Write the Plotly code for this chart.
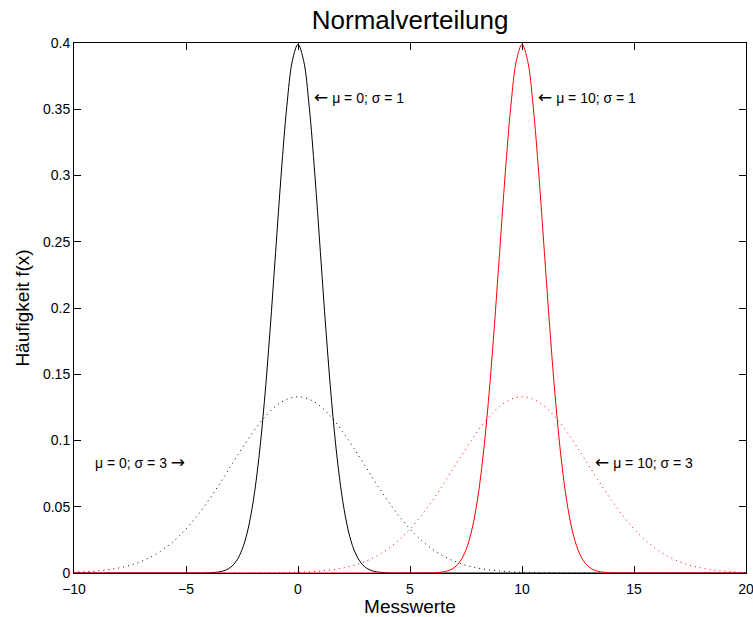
import plotly.graph_objects as go

# ---- data ----
means = [0, 10]
# sigma = 1 density read at offsets from the mean
off_s1 = [-4.5, -4.25, -4.0, -3.75, -3.5, -3.25, -3.0, -2.75, -2.5, -2.25, -2.0, -1.75,
          -1.5, -1.25, -1.0, -0.75, -0.5, -0.25, 0.0, 0.25, 0.5, 0.75, 1.0, 1.25, 1.5,
          1.75, 2.0, 2.25, 2.5, 2.75, 3.0, 3.25, 3.5, 3.75, 4.0, 4.25, 4.5]
dens_s1 = [0.0, 0.0, 0.0001, 0.0004, 0.0009, 0.0020, 0.0044, 0.0091, 0.0175, 0.0317, 0.0540, 0.0863,
           0.1295, 0.1826, 0.2420, 0.3011, 0.3521, 0.3867, 0.3989, 0.3867, 0.3521, 0.3011, 0.2420, 0.1826, 0.1295,
           0.0863, 0.0540, 0.0317, 0.0175, 0.0091, 0.0044, 0.0020, 0.0009, 0.0004, 0.0001, 0.0, 0.0]
# sigma = 3 density read at offsets from the mean
off_s3 = [-12.0, -11.5, -11.0, -10.5, -10.0, -9.5, -9.0, -8.5, -8.0, -7.5, -7.0, -6.5, -6.0,
          -5.5, -5.0, -4.5, -4.0, -3.5, -3.0, -2.5, -2.0, -1.5, -1.0, -0.5, 0.0,
          0.5, 1.0, 1.5, 2.0, 2.5, 3.0, 3.5, 4.0, 4.5, 5.0, 5.5, 6.0,
          6.5, 7.0, 7.5, 8.0, 8.5, 9.0, 9.5, 10.0, 10.5, 11.0, 11.5, 12.0]
dens_s3 = [0.0, 0.0001, 0.0002, 0.0003, 0.0005, 0.0009, 0.0015, 0.0024, 0.0038, 0.0058, 0.0087, 0.0127, 0.0180,
           0.0248, 0.0332, 0.0432, 0.0547, 0.0673, 0.0807, 0.0940, 0.1065, 0.1174, 0.1258, 0.1311, 0.1330,
           0.1311, 0.1258, 0.1174, 0.1065, 0.0940, 0.0807, 0.0673, 0.0547, 0.0432, 0.0332, 0.0248, 0.0180,
           0.0127, 0.0087, 0.0058, 0.0038, 0.0024, 0.0015, 0.0009, 0.0005, 0.0003, 0.0002, 0.0001, 0.0]
x_lo, x_hi = -10, 20
x_tickvals = [-10, -5, 0, 5, 10, 15, 20]
x_ticktext = ["\u221210", "\u22125", "0", "5", "10", "15", "20"]
y_tickvals = [0, 0.05, 0.1, 0.15, 0.2, 0.25, 0.3, 0.35, 0.4]
y_ticktext = ["0", "0.05", "0.1", "0.15", "0.2", "0.25", "0.3", "0.35", "0.4"]
ARROW_L = '<span style="font-family:DejaVu Sans;font-size:17px">\u2190</span>'
ARROW_R = '<span style="font-family:DejaVu Sans;font-size:17px">\u2192</span>'
labels = [ARROW_L + " \u03bc = 0; \u03c3 = 1", ARROW_L + " \u03bc = 10; \u03c3 = 1",
          "\u03bc = 0; \u03c3 = 3 " + ARROW_R, ARROW_L + " \u03bc = 10; \u03c3 = 3"]
label_x = [0.62, 10.64, -4.95, 13.17]
label_y = [0.3595, 0.3595, 0.0838, 0.0838]
label_anchor = ["left", "left", "right", "left"]

FONT = "Liberation Sans, Arial, Helvetica, sans-serif"


def curve(mu, offs, dens):
    xs = [x_lo] + [mu + o for o in offs] + [x_hi]
    ys = [0.0] + list(dens) + [0.0]
    pts = [(x, y) for x, y in zip(xs, ys)]
    pts.sort()
    return [p[0] for p in pts], [p[1] for p in pts]


fig = go.Figure()
colors = ["#000000", "#ff0000"]
# dotted (sigma = 3) first, solid (sigma = 1) on top, red last
for mu, col in zip(means, colors):
    xs, ys = curve(mu, off_s3, dens_s3)
    fig.add_trace(go.Scatter(x=xs, y=ys, mode="lines", line=dict(color=col, width=1, dash="1px,4px", shape="spline"),
                             showlegend=False, hoverinfo="skip"))
for mu, col in zip(means, colors):
    xs, ys = curve(mu, off_s1, dens_s1)
    fig.add_trace(go.Scatter(x=xs, y=ys, mode="lines", line=dict(color=col, width=1, shape="spline"),
                             showlegend=False, hoverinfo="skip"))

for t, x, y, a in zip(labels, label_x, label_y, label_anchor):
    fig.add_annotation(x=x, y=y, text=t, showarrow=False, xanchor=a, yanchor="middle",
                       font=dict(family=FONT, size=14, color="#000000"))

axis_common = dict(showline=True, linecolor="#000000", linewidth=1, mirror="ticks", ticks="inside",
                   ticklen=7, tickcolor="#000000", tickwidth=1, showgrid=False, zeroline=False,
                   tickfont=dict(family=FONT, size=14, color="#000000"), layer="below traces",
                   automargin=False)
fig.update_xaxes(range=[x_lo, x_hi], tickvals=x_tickvals, ticktext=x_ticktext, ticklabeloverflow="allow",
                 ticklabelstandoff=3,
                 title=dict(text="Messwerte", font=dict(family=FONT, size=19, color="#000000"), standoff=1),
                 **axis_common)
fig.update_yaxes(range=[0, 0.4], tickvals=y_tickvals, ticktext=y_ticktext,
                 title=dict(text="Häufigkeit f(x)", font=dict(family=FONT, size=19, color="#000000"), standoff=8),
                 **axis_common)
fig.update_layout(
    width=753, height=617,
    margin=dict(l=74, r=7, t=43, b=44, autoexpand=False),
    paper_bgcolor="#ffffff", plot_bgcolor="#ffffff",
    title=dict(text="Normalverteilung", x=0.5446, xanchor="center", y=1 - 20 / 617, yanchor="middle",
               font=dict(family=FONT, size=26, color="#000000")),
)
fig.write_html("out.html")
